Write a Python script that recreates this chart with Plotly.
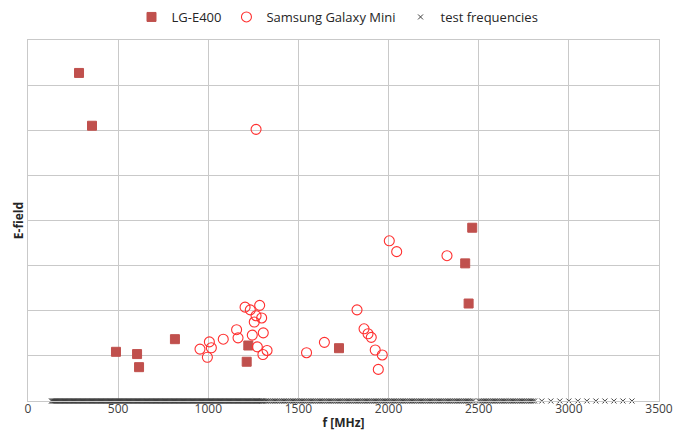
import plotly.graph_objects as go

# ---- data ----
lg_freq = [283, 355, 488, 605, 616, 815, 1213, 1222, 1725, 2425, 2444, 2464]
lg_field = [7.27, 6.10, 1.09, 1.04, 0.75, 1.37, 0.87, 1.23, 1.17, 3.05, 2.16, 3.84]

sam_freq = [954, 995, 1006, 1017, 1083, 1157, 1165, 1204, 1233, 1244, 1255, 1265,
            1265, 1272, 1285, 1296, 1303, 1305, 1326, 1545, 1644, 1825, 1864, 1886,
            1904, 1926, 1943, 1965, 2004, 2045, 2324]
sam_field = [1.15, 0.97, 1.31, 1.18, 1.37, 1.58, 1.40, 2.08, 2.02, 1.46, 1.75, 1.89,
             6.02, 1.20, 2.12, 1.84, 1.03, 1.51, 1.12, 1.07, 1.30, 2.02, 1.60, 1.49,
             1.41, 1.13, 0.70, 1.02, 3.55, 3.31, 3.22]

# test frequency sweep bands: (start MHz, stop MHz, step MHz)
test_bands = [(130, 1300, 5), (1300, 2475, 10), (2500, 2810, 10), (2850, 3350, 50)]
test_freq = []
for start, stop, step in test_bands:
    f = start
    while f <= stop:
        test_freq.append(f)
        f += step
test_field = [0] * len(test_freq)

x_ticks = [0, 500, 1000, 1500, 2000, 2500, 3000, 3500]

FONT = "Open Sans"
GRID = "#c9c9c9"

fig = go.Figure()
fig.add_trace(go.Scatter(
    x=lg_freq, y=lg_field, mode="markers", name="LG-E400",
    marker=dict(symbol="square", size=9, color="#C0504D",
                line=dict(color="#C0504D", width=1)),
))
fig.add_trace(go.Scatter(
    x=sam_freq, y=sam_field, mode="markers", name="Samsung Galaxy Mini",
    marker=dict(symbol="circle-open", size=10, color="#FF3030",
                line=dict(color="#FF3030", width=1.1)),
))
fig.add_trace(go.Scatter(
    x=test_freq, y=test_field, mode="markers", name="test frequencies",
    cliponaxis=False,
    marker=dict(symbol="x-thin", size=5, color="#404040",
                line=dict(color="#404040", width=1)),
))

fig.update_layout(
    width=675, height=431,
    margin=dict(l=28, r=16, t=40, b=30),
    paper_bgcolor="white", plot_bgcolor="white",
    font=dict(family=FONT, size=12, color="#262626"),
    showlegend=True,
    legend=dict(orientation="h", x=0.5, xanchor="center", xref="container",
                y=1 - 17 / 431, yanchor="middle", yref="container",
                font=dict(family=FONT, size=13, color="#262626"),
                itemwidth=30, bgcolor="rgba(0,0,0,0)"),
    xaxis=dict(
        range=[0, 3500], tickmode="array", tickvals=x_ticks,
        ticktext=[str(v) for v in x_ticks],
        showgrid=True, gridcolor=GRID, gridwidth=1,
        zeroline=True, zerolinecolor=GRID, zerolinewidth=1,
        showline=True, linecolor=GRID, mirror=True,
        ticks="", ticklabelstandoff=-3,
        tickfont=dict(family=FONT, size=12, color="#404040"),
        title=dict(text="<b>f [MHz]</b>", standoff=9,
                   font=dict(family=FONT, size=12, color="#262626")),
        automargin=False,
    ),
    yaxis=dict(
        range=[0, 8], dtick=1,
        showgrid=True, gridcolor=GRID, gridwidth=1,
        zeroline=True, zerolinecolor=GRID, zerolinewidth=1,
        showline=True, linecolor=GRID, mirror=True,
        showticklabels=False, ticks="",
        title=dict(text="<b>E-field</b>", standoff=0,
                   font=dict(family=FONT, size=12, color="#262626")),
        automargin=False,
    ),
)

# remove the default page margin so the figure fills the 675x431 window exactly
fig.write_html(
    "out.html",
    config={"displayModeBar": False},
    post_script="document.body.style.margin='0';document.body.style.overflow='hidden';",
)
